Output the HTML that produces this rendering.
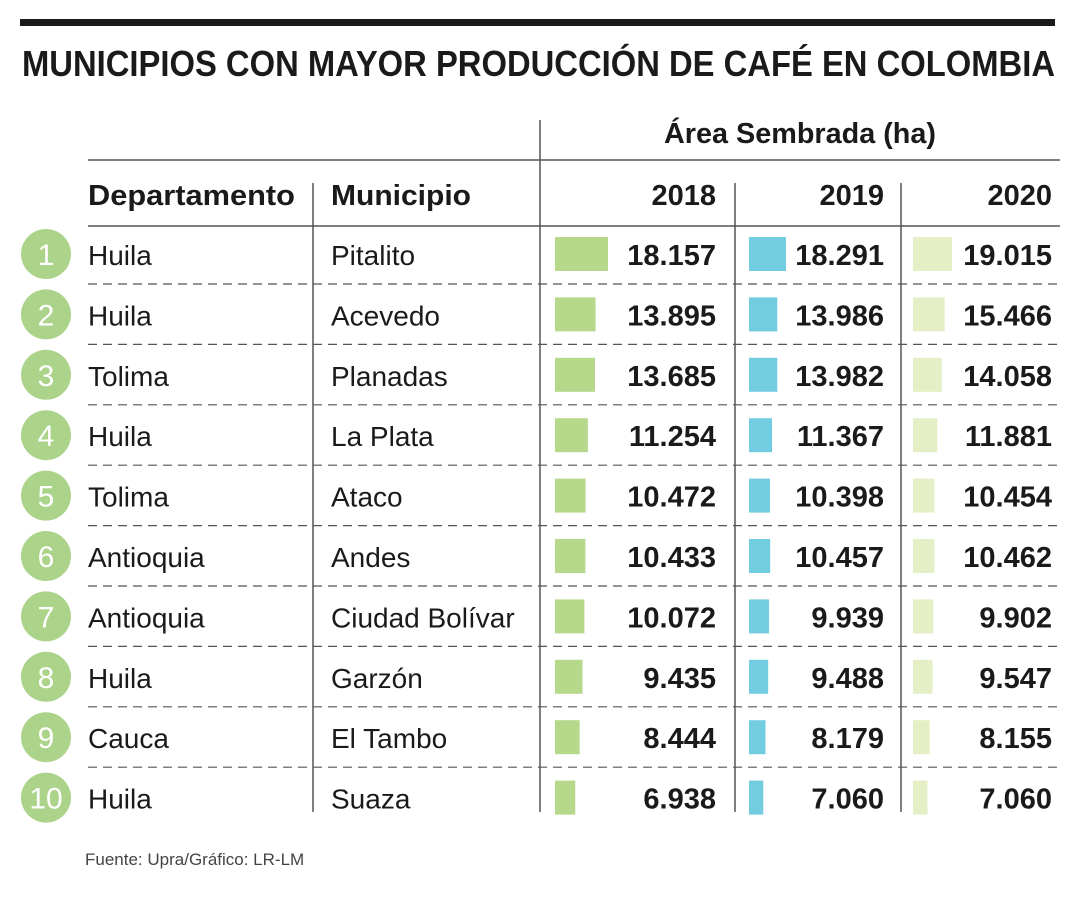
<!DOCTYPE html>
<html><head><meta charset="utf-8"><style>
body{margin:0;background:#fff;}
svg{display:block;font-family:"Liberation Sans",sans-serif;}
</style></head><body>
<svg id="c" width="1080" height="900" xmlns="http://www.w3.org/2000/svg">
<rect x="20" y="19" width="1035" height="7" fill="#1a1a1a"/>
<text x="22" y="76" font-size="36" font-weight="bold" fill="#1a1a1a" textLength="1033" lengthAdjust="spacingAndGlyphs">MUNICIPIOS CON MAYOR PRODUCCIÓN DE CAFÉ EN COLOMBIA</text>
<line x1="540" y1="120" x2="540" y2="812" stroke="#555" stroke-width="1.5"/>
<line x1="88" y1="160" x2="1060" y2="160" stroke="#555" stroke-width="1.5"/>
<line x1="88" y1="226" x2="1060" y2="226" stroke="#555" stroke-width="1.5"/>
<line x1="313" y1="183" x2="313" y2="812" stroke="#555" stroke-width="1.5"/>
<line x1="735" y1="183" x2="735" y2="812" stroke="#555" stroke-width="1.5"/>
<line x1="901" y1="183" x2="901" y2="812" stroke="#555" stroke-width="1.5"/>
<text x="800" y="143" font-size="29" font-weight="bold" text-anchor="middle" fill="#1a1a1a" textLength="272" lengthAdjust="spacingAndGlyphs">Área Sembrada (ha)</text>
<text x="88" y="205" font-size="29" font-weight="bold" fill="#1a1a1a" textLength="207" lengthAdjust="spacingAndGlyphs">Departamento</text>
<text x="331" y="205" font-size="29" font-weight="bold" fill="#1a1a1a" textLength="140" lengthAdjust="spacingAndGlyphs">Municipio</text>
<text x="716" y="205" font-size="29" font-weight="bold" text-anchor="end" fill="#1a1a1a">2018</text>
<text x="884" y="205" font-size="29" font-weight="bold" text-anchor="end" fill="#1a1a1a">2019</text>
<text x="1052" y="205" font-size="29" font-weight="bold" text-anchor="end" fill="#1a1a1a">2020</text>
<text x="85" y="865" font-size="17" fill="#444">Fuente: Upra/Gráfico: LR-LM</text>
<g id="rows"></g>
</svg>
<script>
const departamentos=["Huila","Huila","Tolima","Huila","Tolima","Antioquia","Antioquia","Huila","Cauca","Huila"];
const municipios=["Pitalito","Acevedo","Planadas","La Plata","Ataco","Andes","Ciudad Bolívar","Garzón","El Tambo","Suaza"];
const v2018=[18157,13895,13685,11254,10472,10433,10072,9435,8444,6938];
const v2019=[18291,13986,13982,11367,10398,10457,9939,9488,8179,7060];
const v2020=[19015,15466,14058,11881,10454,10462,9902,9547,8155,7060];
const ns="http://www.w3.org/2000/svg";
const g=document.getElementById("rows");
function el(t,a,txt){const e=document.createElementNS(ns,t);for(const k in a)e.setAttribute(k,a[k]);if(txt!=null)e.textContent=txt;g.appendChild(e);return e;}
function rowY(i){return 254+i*60.4;}
const cols=[{x0:555,s:53/18157,c:"#b5d88a",end:716,vals:v2018,n:"2018"},
{x0:749,s:37/18291,c:"#72cde0",end:884,vals:v2019,n:"2019"},
{x0:913,s:39/19015,c:"#e5efc6",end:1052,vals:v2020,n:"2020"}];
function fmt(v){const s=String(v);return s.length>3?s.slice(0,-3)+"."+s.slice(-3):s;}
for(let i=0;i<departamentos.length;i++){
const y=rowY(i);
if(i<departamentos.length-1){
const d=el("line",{x1:88,y1:y+30,x2:1060,y2:y+30,stroke:"#555","stroke-width":1.2,"stroke-dasharray":"9,6"});

}
const c=el("circle",{cx:46,cy:y,r:25,fill:"#acd38a"});


const rt=el("text",{x:46,y:y+11,"font-size":30,fill:"#fff","text-anchor":"middle"},String(i+1));


const dt=el("text",{x:88,y:y+11,"font-size":28,fill:"#1a1a1a"},departamentos[i]);


const mt=el("text",{x:331,y:y+11,"font-size":28,fill:"#1a1a1a"},municipios[i]);


for(const col of cols){
const v=col.vals[i];
const b=el("rect",{x:col.x0,y:y-17,width:v*col.s,height:34,fill:col.c});


const t=el("text",{x:col.end,y:y+11,"font-size":29,"font-weight":"bold","text-anchor":"end",fill:"#1a1a1a"},fmt(v));


}
}
</script>
</body></html>
